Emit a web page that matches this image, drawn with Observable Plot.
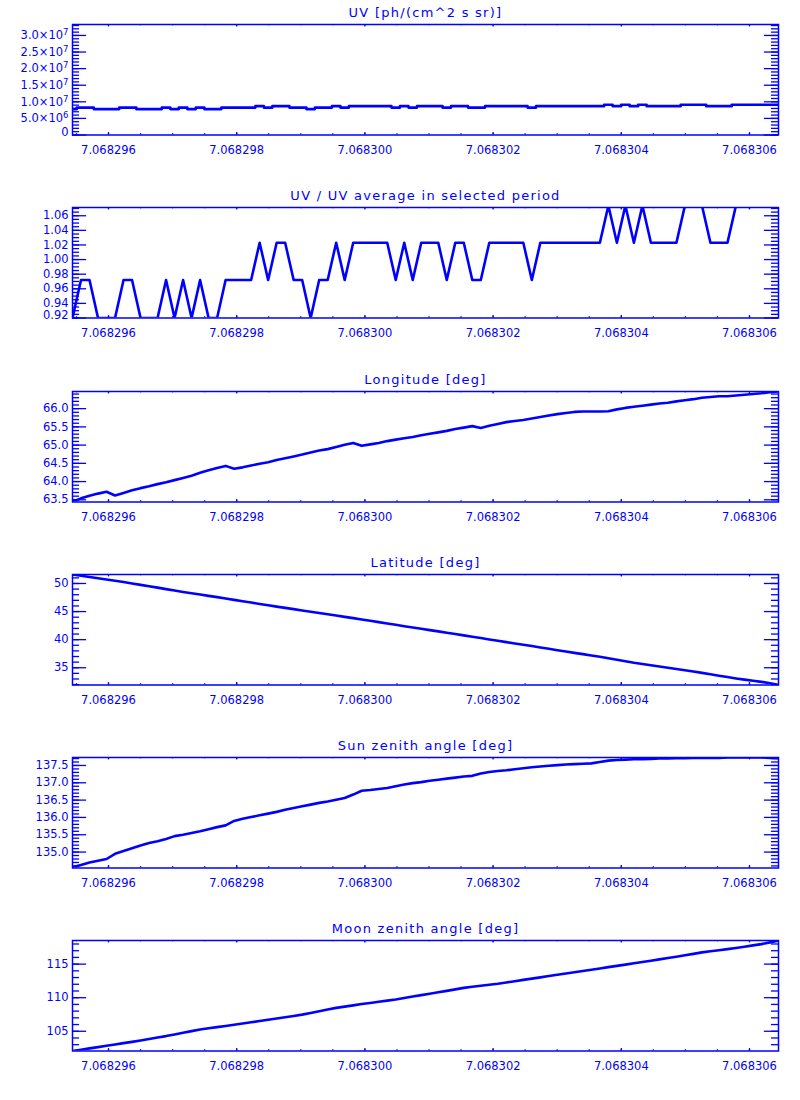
<!DOCTYPE html>
<html><head><meta charset="utf-8">
<script src="https://cdn.jsdelivr.net/npm/d3@7"></script>
<script src="https://cdn.jsdelivr.net/npm/@observablehq/plot@0.6"></script>
<style>
body{margin:0;background:#fff;}
#chart svg{display:block;}
</style></head><body><div id="chart"></div>
<script>
const BLUE = "#0000ff";
// sample times (uniform sampling over the plotted interval)
const t0 = 7.0682954384, dt = 1.3270e-7;
const xDomain = [7.0682954384, 7.0683064524];
const xMajor = [7.068296, 7.068298, 7.068300, 7.068302, 7.068304, 7.068306];
const xLabels = ["7.068296", "7.068298", "7.068300", "7.068302", "7.068304", "7.068306"];

const uv = [7.80e6,8.25e6,8.25e6,7.80e6,7.80e6,7.80e6,8.25e6,8.25e6,7.80e6,7.80e6,
 7.80e6,8.25e6,7.80e6,8.25e6,7.80e6,8.25e6,7.80e6,7.80e6,8.25e6,8.25e6,
 8.25e6,8.25e6,8.70e6,8.25e6,8.70e6,8.70e6,8.25e6,8.25e6,7.80e6,8.25e6,
 8.25e6,8.70e6,8.25e6,8.70e6,8.70e6,8.70e6,8.70e6,8.70e6,8.25e6,8.70e6,
 8.25e6,8.70e6,8.70e6,8.70e6,8.25e6,8.70e6,8.70e6,8.25e6,8.25e6,8.70e6,
 8.70e6,8.70e6,8.70e6,8.70e6,8.25e6,8.70e6,8.70e6,8.70e6,8.70e6,8.70e6,
 8.70e6,8.70e6,8.70e6,9.10e6,8.70e6,9.10e6,8.70e6,9.10e6,8.70e6,8.70e6,
 8.70e6,8.70e6,9.10e6,9.10e6,9.10e6,8.70e6,8.70e6,8.70e6,9.10e6,9.10e6,
 9.10e6,9.10e6,9.10e6,9.10e6];

const ratio = [0.920,0.972,0.972,0.920,0.920,0.920,0.972,0.972,0.920,0.920,
 0.920,0.972,0.920,0.972,0.920,0.972,0.920,0.920,0.972,0.972,
 0.972,0.972,1.023,0.972,1.023,1.023,0.972,0.972,0.920,0.972,
 0.972,1.023,0.972,1.023,1.023,1.023,1.023,1.023,0.972,1.023,
 0.972,1.023,1.023,1.023,0.972,1.023,1.023,0.972,0.972,1.023,
 1.023,1.023,1.023,1.023,0.972,1.023,1.023,1.023,1.023,1.023,
 1.023,1.023,1.023,1.074,1.023,1.074,1.023,1.074,1.023,1.023,
 1.023,1.023,1.074,1.074,1.074,1.023,1.023,1.023,1.074,1.074,
 1.074,1.074,1.074,1.074];

const lon = [63.445,63.54,63.61,63.67,63.72,63.62,63.69,63.76,63.82,63.87,
 63.93,63.98,64.04,64.10,64.16,64.24,64.31,64.37,64.43,64.35,
 64.39,64.44,64.49,64.53,64.59,64.64,64.69,64.74,64.80,64.85,
 64.89,64.95,65.01,65.06,64.98,65.02,65.06,65.11,65.15,65.19,
 65.22,65.27,65.31,65.35,65.39,65.44,65.48,65.52,65.47,65.53,
 65.58,65.63,65.66,65.69,65.73,65.77,65.81,65.85,65.88,65.91,
 65.92,65.92,65.92,65.93,65.98,66.02,66.05,66.08,66.11,66.14,
 66.16,66.20,66.23,66.26,66.30,66.32,66.34,66.34,66.36,66.38,
 66.40,66.42,66.45,66.47];

const lat = [51.60,51.38,51.14,50.92,50.70,50.48,50.25,50.00,49.75,49.50,
 49.26,49.00,48.75,48.50,48.26,48.03,47.80,47.57,47.33,47.08,
 46.84,46.60,46.36,46.12,45.88,45.66,45.44,45.20,44.97,44.74,
 44.51,44.29,44.06,43.83,43.60,43.36,43.12,42.88,42.64,42.40,
 42.17,41.94,41.70,41.47,41.24,41.00,40.76,40.52,40.28,40.04,
 39.80,39.56,39.33,39.10,38.86,38.62,38.38,38.13,37.88,37.65,
 37.42,37.19,36.96,36.70,36.44,36.17,35.90,35.67,35.44,35.22,
 35.00,34.77,34.55,34.32,34.09,33.84,33.59,33.34,33.10,32.89,
 32.69,32.49,32.23,31.93];

const sza = [134.56,134.63,134.70,134.75,134.80,134.95,135.03,135.11,135.19,135.26,
 135.31,135.38,135.46,135.50,135.55,135.60,135.66,135.72,135.77,135.90,
 135.96,136.01,136.06,136.11,136.16,136.22,136.27,136.32,136.37,136.42,
 136.46,136.51,136.56,136.66,136.77,136.79,136.82,136.85,136.90,136.95,
 136.99,137.02,137.06,137.09,137.12,137.15,137.18,137.20,137.27,137.31,
 137.34,137.36,137.39,137.42,137.45,137.47,137.49,137.51,137.53,137.54,
 137.55,137.56,137.60,137.64,137.66,137.67,137.68,137.68,137.69,137.70,
 137.70,137.71,137.71,137.72,137.72,137.72,137.72,137.73,137.73,137.73,
 137.73,137.73,137.72,137.71];

const mza = [102.06,102.25,102.45,102.64,102.84,103.03,103.23,103.42,103.63,103.85,
 104.07,104.28,104.52,104.77,105.02,105.27,105.45,105.62,105.79,105.96,
 106.15,106.34,106.52,106.71,106.89,107.08,107.27,107.48,107.73,107.98,
 108.24,108.48,108.67,108.86,109.05,109.22,109.39,109.56,109.74,109.96,
 110.17,110.38,110.59,110.80,111.02,111.24,111.46,111.62,111.77,111.92,
 112.08,112.27,112.46,112.65,112.84,113.03,113.22,113.41,113.60,113.79,
 113.98,114.17,114.36,114.55,114.74,114.93,115.13,115.32,115.51,115.71,
 115.90,116.11,116.32,116.53,116.75,116.91,117.07,117.23,117.40,117.59,
 117.79,117.98,118.24,118.52];

const panels = [
  {title: "UV [ph/(cm^2 s sr)]", values: uv, yDomain: [0, 3.33e7], curve: "step",
   yMajor: [0, 5e6, 1e7, 1.5e7, 2e7, 2.5e7, 3e7],
   yLabels: ["0", "5.0×10⁶", "1.0×10⁷", "1.5×10⁷", "2.0×10⁷", "2.5×10⁷", "3.0×10⁷"],
   minorStep: 1e6, minorStart: 0},
  {title: "UV / UV average in selected period", values: ratio, yDomain: [0.92, 1.0713], curve: "linear",
   yMajor: [0.92, 0.94, 0.96, 0.98, 1.00, 1.02, 1.04, 1.06],
   yLabels: ["0.92", "0.94", "0.96", "0.98", "1.00", "1.02", "1.04", "1.06"],
   minorStep: 0.005, minorStart: 0.92},
  {title: "Longitude [deg]", values: lon, yDomain: [63.44, 66.47], curve: "linear",
   yMajor: [63.5, 64.0, 64.5, 65.0, 65.5, 66.0],
   yLabels: ["63.5", "64.0", "64.5", "65.0", "65.5", "66.0"],
   minorStep: 0.1, minorStart: 63.5},
  {title: "Latitude [deg]", values: lat, yDomain: [31.93, 51.6], curve: "linear",
   yMajor: [35, 40, 45, 50],
   yLabels: ["35", "40", "45", "50"],
   minorStep: 1, minorStart: 32},
  {title: "Sun zenith angle [deg]", values: sza, yDomain: [134.54, 137.73], curve: "linear",
   yMajor: [135.0, 135.5, 136.0, 136.5, 137.0, 137.5],
   yLabels: ["135.0", "135.5", "136.0", "136.5", "137.0", "137.5"],
   minorStep: 0.1, minorStart: 134.6},
  {title: "Moon zenith angle [deg]", values: mza, yDomain: [102.06, 118.52], curve: "linear",
   yMajor: [105, 110, 115],
   yLabels: ["105", "110", "115"],
   minorStep: 1, minorStart: 103}
];

const H = 183.3;
const FONT = "DejaVu Sans, sans-serif";
const SUP = {"⁰":"0","¹":"1","²":"2","³":"3","⁴":"4","⁵":"5","⁶":"6","⁷":"7","⁸":"8","⁹":"9"};

function panel(p) {
  const [x0, x1] = xDomain, xr = x1 - x0;
  const [y0, y1] = p.yDomain, yr = y1 - y0;
  const data = p.values.map((v, i) => ({t: t0 + i * dt, v}));
  const yMinor = [];
  for (let k = 0; ; k++) {
    const v = +(p.minorStart + k * p.minorStep).toFixed(6);
    if (v > y1) break;
    if (v >= y0) yMinor.push(v);
  }
  const xMinor = [];
  for (let k = -2; k < 24; k++) {
    const v = 7.068296 + k * 0.5e-6;
    if (v >= x0 && v <= x1) xMinor.push(v);
  }
  const lab = p.yMajor.map((v, i) => ({v, s: p.yLabels[i], low: Math.abs(v - y0) < 0.01 * yr}));
  const common = {stroke: BLUE, strokeWidth: 1.3};
  const txt = {fill: BLUE, fontSize: 11.5};
  const svg = Plot.plot({
    width: 800, height: H,
    marginLeft: 72, marginRight: 22, marginTop: 24, marginBottom: H - 24 - 110.5,
    x: {domain: xDomain, axis: null},
    y: {domain: p.yDomain, axis: null},
    style: {fontFamily: FONT, background: "white", color: BLUE, overflow: "visible"},
    marks: [
      Plot.line(data, {x: "t", y: "v", stroke: BLUE, strokeWidth: 2.6, curve: p.curve, clip: true}),
      Plot.frame({stroke: BLUE, strokeWidth: 1.5}),
      // y ticks (inward, both sides)
      Plot.ruleY(yMinor, {y: d => d, x1: () => x0, x2: () => x0 + 0.01 * xr, ...common}),
      Plot.ruleY(yMinor, {y: d => d, x1: () => x1 - 0.01 * xr, x2: () => x1, ...common}),
      Plot.ruleY(p.yMajor, {y: d => d, x1: () => x0, x2: () => x0 + 0.02 * xr, ...common}),
      Plot.ruleY(p.yMajor, {y: d => d, x1: () => x1 - 0.02 * xr, x2: () => x1, ...common}),
      // x ticks (inward, top and bottom)
      Plot.ruleX(xMinor, {x: d => d, y1: () => y0, y2: () => y0 + 0.012 * yr, ...common}),
      Plot.ruleX(xMinor, {x: d => d, y1: () => y1 - 0.012 * yr, y2: () => y1, ...common}),
      Plot.ruleX(xMajor, {x: d => d, y1: () => y0, y2: () => y0 + 0.022 * yr, ...common}),
      Plot.ruleX(xMajor, {x: d => d, y1: () => y1 - 0.022 * yr, y2: () => y1, ...common}),
      // y labels
      Plot.text(lab.filter(d => !d.low), {y: "v", text: "s", frameAnchor: "left", textAnchor: "end", dx: -4, ...txt}),
      Plot.text(lab.filter(d => d.low), {y: "v", text: "s", frameAnchor: "left", textAnchor: "end", dx: -4, dy: -2.5, ...txt}),
      // x labels
      Plot.text(xMajor, {x: d => d, text: (d, i) => xLabels[i], frameAnchor: "bottom", dy: 15,
        lineAnchor: "middle", ...txt}),
      // title
      Plot.text([p.title], {text: d => d, frameAnchor: "top", dy: -12, lineAnchor: "middle",
        fill: BLUE, fontSize: 13})
    ]
  });
  // typographic touches: title letter spacing, full-size exponents
  d3.select(svg).selectAll("text").each(function() {
    const s = this.textContent;
    if (s === p.title) { this.setAttribute("letter-spacing", "1.27"); return; }
    const m = s.match(/^(.*×10)([⁰¹²³⁴⁵⁶⁷⁸⁹]+)$/);
    if (m) {
      this.textContent = m[1];
      const ts = document.createElementNS("http://www.w3.org/2000/svg", "tspan");
      ts.setAttribute("dy", "-0.45em");
      ts.setAttribute("font-size", "8.5");
      ts.textContent = [...m[2]].map(c => SUP[c]).join("");
      this.appendChild(ts);
    }
  });
  return svg;
}

const root = document.getElementById("chart");
for (const p of panels) root.appendChild(panel(p));
</script>
</body></html>
